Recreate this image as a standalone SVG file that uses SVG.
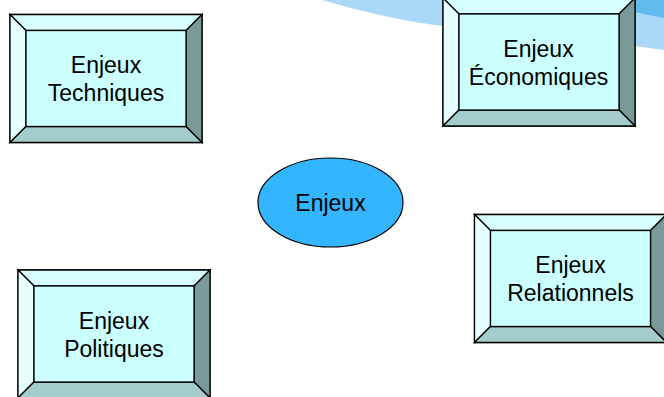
<svg xmlns="http://www.w3.org/2000/svg" xmlns:xlink="http://www.w3.org/1999/xlink" width="664" height="397" viewBox="0 0 664 397">
<style>
.edge{stroke:#000;stroke-width:1.3;stroke-linejoin:miter}
.face{fill:#CCFFFF}
.btop{fill:#D6FFFF}
.bleft{fill:#E6FFFF}
.bright{fill:#7A9999}
.bbottom{fill:#A3CCCC}
.lbl{font-family:"Liberation Sans",Arial,sans-serif;font-size:23px;fill:#000;text-anchor:middle}
</style>
<defs>
<g id="bevelBox">
<rect class="face edge" x="0" y="0" width="192" height="128"/>
<path class="btop edge" d="M0,0 L192,0 L176,16 L16,16 Z"/>
<path class="bleft edge" d="M0,0 L16,16 L16,112 L0,128 Z"/>
<path class="bright edge" d="M192,0 L192,128 L176,112 L176,16 Z"/>
<path class="bbottom edge" d="M0,128 L16,112 L176,112 L192,128 Z"/>
<rect class="face edge" x="16" y="16" width="160" height="96"/>
</g>
</defs>
<rect width="664" height="397" fill="#FFFFFF"/>
<g id="background">
<path d="M322,0 Q390,20 450,27 L560,36 L664,50 L664,0 Z" fill="#A9D9F7"/>
<path d="M590,0 L664,0 L664,18 Q630,12 590,0 Z" fill="#62BBEF"/>
</g>
<g id="connectors"></g>
<g id="node-techniques">
<use xlink:href="#bevelBox" transform="translate(10,14.5)"/>
<text class="lbl" x="106" y="73">Enjeux</text>
<text class="lbl" x="106" y="100.5">Techniques</text>
</g>
<g id="node-economiques">
<use xlink:href="#bevelBox" transform="translate(443,-2)"/>
<text class="lbl" x="538.5" y="56.5">Enjeux</text>
<text class="lbl" x="538.5" y="85">Économiques</text>
</g>
<g id="node-relationnels">
<use xlink:href="#bevelBox" transform="translate(474.5,214.5)"/>
<text class="lbl" x="570.5" y="273">Enjeux</text>
<text class="lbl" x="570.5" y="301">Relationnels</text>
</g>
<g id="node-politiques">
<use xlink:href="#bevelBox" transform="translate(18,270)"/>
<text class="lbl" x="114" y="328.5">Enjeux</text>
<text class="lbl" x="114" y="357">Politiques</text>
</g>
<g id="node-enjeux">
<ellipse cx="330.5" cy="202.5" rx="72.5" ry="44.5" fill="#33B5FF" stroke="#000" stroke-width="1.2"/>
<text class="lbl" x="330.5" y="211">Enjeux</text>
</g>
</svg>
